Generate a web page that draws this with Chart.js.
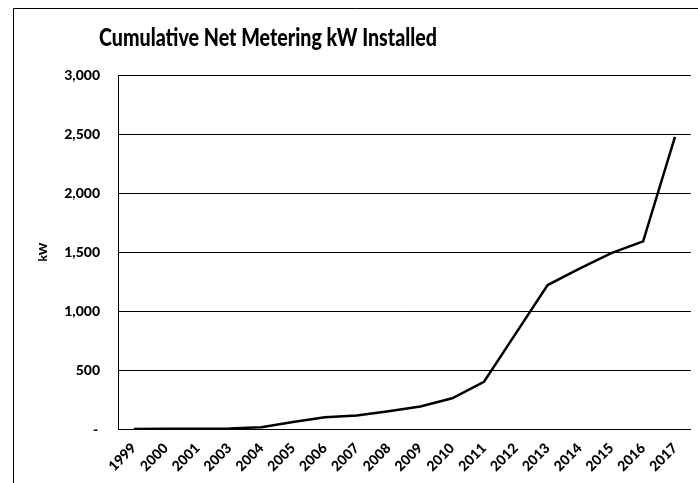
<!DOCTYPE html>
<html>
<head>
<meta charset="utf-8">
<script src="https://cdn.jsdelivr.net/npm/chart.js@4"></script>
<style>
  html, body { margin: 0; padding: 0; background: #fff; }
  #wrap { position: relative; width: 698px; height: 483px; }
</style>
</head>
<body>
<div id="wrap"><canvas id="chart"></canvas></div>
<script>
const years = [
  "1999", "2000", "2001", "2003", "2004", "2005", "2006", "2007", "2008",
  "2009", "2010", "2011", "2012", "2013", "2014", "2015", "2016", "2017",
];

const kwInstalled = [
  1, 2, 3, 5, 15, 60, 100, 115, 150,
  190, 260, 400, 810, 1220, 1360, 1490, 1590, 2475,
];

const yTicks = [0, 500, 1000, 1500, 2000, 2500, 3000];

const chartTitle = "Cumulative Net Metering kW Installed";

// frame + title drawn like the Excel original (title sits left of centre)
const frameAndTitle = {
  id: "frameAndTitle",
  beforeDraw(chart) {
    const ctx = chart.ctx;
    ctx.save();
    ctx.fillStyle = "#fff";
    ctx.fillRect(0, 0, chart.width, chart.height);
    ctx.strokeStyle = "#000";
    ctx.lineWidth = 1;
    ctx.beginPath();
    ctx.moveTo(13.5, chart.height);
    ctx.lineTo(13.5, 8.5);
    ctx.lineTo(chart.width, 8.5);
    ctx.stroke();
    ctx.restore();
  },
  afterDraw(chart) {
    const ctx = chart.ctx;
    ctx.save();
    ctx.font = "900 24px Lato";
    ctx.fillStyle = "#000";
    ctx.textAlign = "center";
    ctx.textBaseline = "alphabetic";
    ctx.fillText(chartTitle, 268, 46, 338);
    ctx.restore();
  },
};

new Chart(document.getElementById("chart"), {
  type: "line",
  data: {
    labels: years,
    datasets: [
      {
        data: kwInstalled,
        borderColor: "#000",
        borderWidth: 2.5,
        pointRadius: 0,
        tension: 0,
        fill: false,
      },
    ],
  },
  options: {
    responsive: true,
    maintainAspectRatio: false,
    animation: false,
    layout: {
      padding: { top: 75, right: 6, bottom: 0, left: 0 },
    },
    plugins: {
      legend: { display: false },
      tooltip: { enabled: false },
    },
    scales: {
      x: {
        offset: true,
        afterFit(scale) {
          scale.height = 54;
        },
        grid: {
          display: false,
          drawTicks: false,
        },
        border: { color: "#000", width: 1 },
        ticks: {
          color: "#000",
          minRotation: 45,
          maxRotation: 45,
          padding: 11,
          autoSkip: false,
          font: { family: "Lato", weight: "900", size: 14 },
        },
      },
      y: {
        min: 0,
        max: 3000,
        afterFit(scale) {
          scale.width = 118;
        },
        afterBuildTicks(scale) {
          scale.ticks = yTicks.map((v) => ({ value: v }));
        },
        grid: {
          color: "#000",
          lineWidth: 1,
          drawTicks: false,
        },
        border: { color: "#000", width: 1 },
        title: {
          display: true,
          text: "kW",
          color: "#000",
          padding: { top: 36, bottom: 0 },
          font: { family: "Lato", weight: "900", size: 12 },
        },
        ticks: {
          color: "#000",
          padding: 18,
          font: { family: "Lato", weight: "900", size: 14 },
          callback: (v) => (v === 0 ? "-\u2009" : v.toLocaleString("en-US")),
        },
      },
    },
  },
  plugins: [frameAndTitle],
});
</script>
</body>
</html>
